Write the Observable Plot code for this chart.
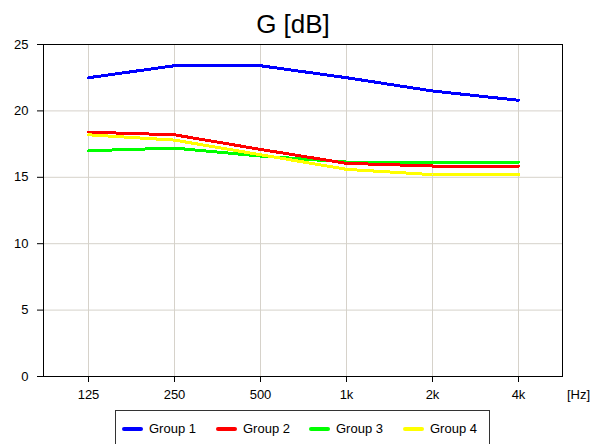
<!DOCTYPE html>
<html>
<head>
<meta charset="utf-8">
<script src="https://cdn.jsdelivr.net/npm/d3@7"></script>
<script src="https://cdn.jsdelivr.net/npm/@observablehq/plot@0.6"></script>
<style>
  html, body { margin: 0; padding: 0; background: #fff; }
  #chart { position: relative; width: 592px; height: 444px; overflow: hidden;
           font-family: Arial, "Liberation Sans", sans-serif; color: #000; background: #fff; }
  #chart svg { position: absolute; left: 0; top: 0; }
  #title { position: absolute; left: 0; top: 11px; width: 586px; text-align: center;
           font-size: 26px; line-height: 26px; }
  #legend { position: absolute; left: 115px; top: 410px; width: 375px; height: 44px;
            border: 1px solid #333; box-sizing: border-box; }
  .sw { position: absolute; top: 16px; width: 21px; height: 4px; border-radius: 2px; }
  .lb { position: absolute; top: 11px; font-size: 13px; line-height: 13px; white-space: nowrap; }
</style>
</head>
<body>
<div id="chart"></div>
<script>
// Octave-band centre frequencies
const freqs = ["125", "250", "500", "1k", "2k", "4k"];

// Strength G in dB per group
const group1 = [22.5, 23.4, 23.4, 22.5, 21.5, 20.8];
const group2 = [18.4, 18.2, 17.1, 16.05, 15.85, 15.85];
const group3 = [17.0, 17.2, 16.6, 16.15, 16.15, 16.15];
const group4 = [18.2, 17.8, 16.7, 15.6, 15.2, 15.2];

const groupNames = ["Group 1", "Group 2", "Group 3", "Group 4"];
const yTicks = [0, 5, 10, 15, 20, 25];

// Series styling
const groupColors = ["#0000ff", "#ff0000", "#00ff00", "#ffff00"];
const drawOrder = [0, 2, 1, 3];

const series = [group1, group2, group3, group4].map((vals, i) =>
  freqs.map((f, j) => ({group: groupNames[i], freq: f, g: vals[j]}))
);

const font = 'Arial, "Liberation Sans", sans-serif';

const plot = Plot.plot({
  width: 592,
  height: 410,
  marginTop: 44,
  marginBottom: 34,
  marginLeft: 43,
  marginRight: 30,
  style: {fontFamily: font, fontSize: "13px", color: "#000", background: "transparent", overflow: "visible"},
  x: {type: "point", domain: freqs, padding: 0.5},
  y: {domain: [0, 25]},
  marks: [
    Plot.gridX(freqs, {stroke: "#d6d2ca", strokeOpacity: 1}),
    Plot.gridY(yTicks, {stroke: "#d6d2ca", strokeOpacity: 1}),
    ...drawOrder.map(i => Plot.line(series[i], {
      x: "freq", y: "g", stroke: groupColors[i], strokeWidth: 3,
      strokeLinejoin: "miter", shapeRendering: "crispEdges"
    })),
    Plot.frame({stroke: "#000"}),
    Plot.axisY(yTicks, {tickSize: 6, tickPadding: 9, label: null, stroke: "#000"}),
    Plot.axisX(freqs, {tickSize: 6, tickPadding: 7, label: null, stroke: "#000"}),
    Plot.text(["[Hz]"], {
      text: d => d, frameAnchor: "bottom-right", textAnchor: "start",
      lineAnchor: "middle", dx: 4.5, dy: 18, fill: "#000"
    })
  ]
});

const root = document.getElementById("chart");
root.appendChild(plot);

const title = document.createElement("div");
title.id = "title";
title.textContent = "G [dB]";
root.appendChild(title);

// Legend box below the plot
const legend = document.createElement("div");
legend.id = "legend";
groupNames.forEach((name, i) => {
  const left = Math.round(6 + 93.5 * i);
  const sw = document.createElement("div");
  sw.className = "sw";
  sw.style.left = left + "px";
  sw.style.background = groupColors[i];
  legend.appendChild(sw);
  const lb = document.createElement("div");
  lb.className = "lb";
  lb.style.left = (left + 27) + "px";
  lb.textContent = name;
  legend.appendChild(lb);
});
root.appendChild(legend);
</script>
</body>
</html>
